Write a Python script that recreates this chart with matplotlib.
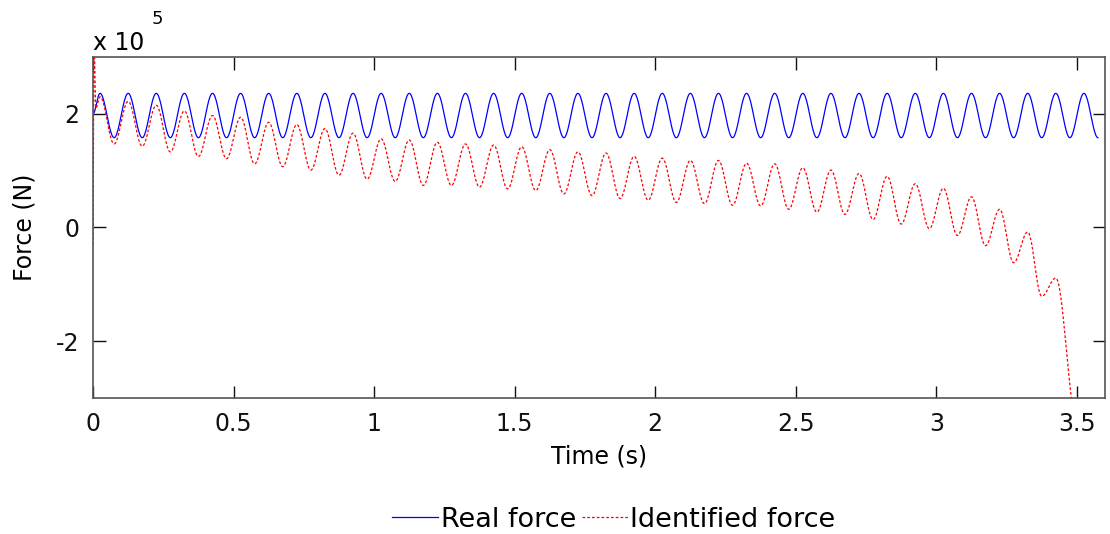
import numpy as np
import matplotlib.pyplot as plt

plt.rcParams['font.family'] = 'DejaVu Sans'

# force values are in units of 1e5 N
period = 0.1          # s, excitation period
first_peak = 0.025    # s, time of the first crest

# real (applied) force: constant crest / trough level
real_start = 2.0
real_peak = 2.36
real_trough = 1.58
n_cycles = 36

# identified force: crest and trough of every cycle
ident_peaks = [2.30, 2.22, 2.15, 2.05, 1.97, 1.94, 1.85, 1.81, 1.74, 1.66,
               1.56, 1.54, 1.50, 1.47, 1.45, 1.42, 1.37, 1.33, 1.31, 1.25,
               1.22, 1.18, 1.18, 1.13, 1.12, 1.05, 1.01, 0.95, 0.90, 0.77,
               0.69, 0.54, 0.32, -0.08, -0.89]
ident_troughs = [1.47, 1.43, 1.33, 1.25, 1.21, 1.12, 1.07, 1.01, 0.92, 0.85,
                 0.81, 0.74, 0.74, 0.71, 0.68, 0.65, 0.59, 0.56, 0.51, 0.48,
                 0.44, 0.42, 0.39, 0.38, 0.32, 0.27, 0.23, 0.14, 0.06, -0.02,
                 -0.14, -0.32, -0.62, -1.21]
# start-up spike and final run-away of the identified force
ident_head_t = [0.0, 0.003, 0.010]
ident_head_v = [-0.3, 3.40, 2.10]
ident_tail_t = [3.50]
ident_tail_v = [-3.40]


def extrema_series(peaks, troughs):
    t, v = [], []
    for k, p in enumerate(peaks):
        t.append(first_peak + k * period)
        v.append(p)
        if k < len(troughs):
            t.append(first_peak + k * period + period / 2)
            v.append(troughs[k])
    return t, v


def half_waves(t, v, n=24):
    # join successive extrema with half cosine waves
    xs, ys = [t[0]], [v[0]]
    for i in range(len(t) - 1):
        s = np.linspace(0, 1, n)[1:]
        xs.extend(t[i] + s * (t[i + 1] - t[i]))
        ys.extend(v[i] + (1 - np.cos(np.pi * s)) / 2 * (v[i + 1] - v[i]))
    return np.array(xs), np.array(ys)


rt, rv = extrema_series([real_peak] * n_cycles, [real_trough] * n_cycles)
rt = [0.0] + rt
rv = [real_start] + rv
real_t, real_f = half_waves(rt, rv)

it, iv = extrema_series(ident_peaks, ident_troughs)
it = ident_head_t + it + ident_tail_t
iv = ident_head_v + iv + ident_tail_v
ident_t, ident_f = half_waves(it, iv)

fig = plt.figure(figsize=(11.1, 5.34), dpi=100)
ax = fig.add_axes([0.0838, 0.2547, 0.9117, 0.6386])

ax.plot(real_t, real_f, color='#0000ff', lw=0.9, label='Real force')
ax.plot(ident_t, ident_f, color='#ff0000', lw=0.9, linestyle=(0, (2.2, 1.6)),
        label='Identified force')

ax.set_xlim(0, 3.6)
ax.set_ylim(-3, 3)
ax.set_xticks([0, 0.5, 1, 1.5, 2, 2.5, 3, 3.5])
ax.set_xticklabels(['0', '0.5', '1', '1.5', '2', '2.5', '3', '3.5'])
ax.set_yticks([-2, 0, 2])
ax.set_yticklabels(['-2', '0', '2'])
ax.tick_params(direction='in', length=9, width=1, top=True, right=True,
               labelsize=17, colors='#111111', pad=10)
for sp in ax.spines.values():
    sp.set_color('#555555')
    sp.set_linewidth(1.2)

ax.set_xlabel('Time (s)', fontsize=17, labelpad=6)
ax.set_ylabel('Force (N)', fontsize=17, labelpad=14)

# exponent label above the y axis
ax.text(0.0, 1.005, 'x 10', transform=ax.transAxes, fontsize=17,
        ha='left', va='bottom')
ax.text(0.058, 1.085, '5', transform=ax.transAxes, fontsize=13,
        ha='left', va='bottom')

fig.legend(loc='lower center', bbox_to_anchor=(0.553, -0.043), ncol=2,
           frameon=False, fontsize=19.5, handlelength=1.7, handletextpad=0.1,
           columnspacing=0.2)

fig.savefig('out.png', dpi=100)
